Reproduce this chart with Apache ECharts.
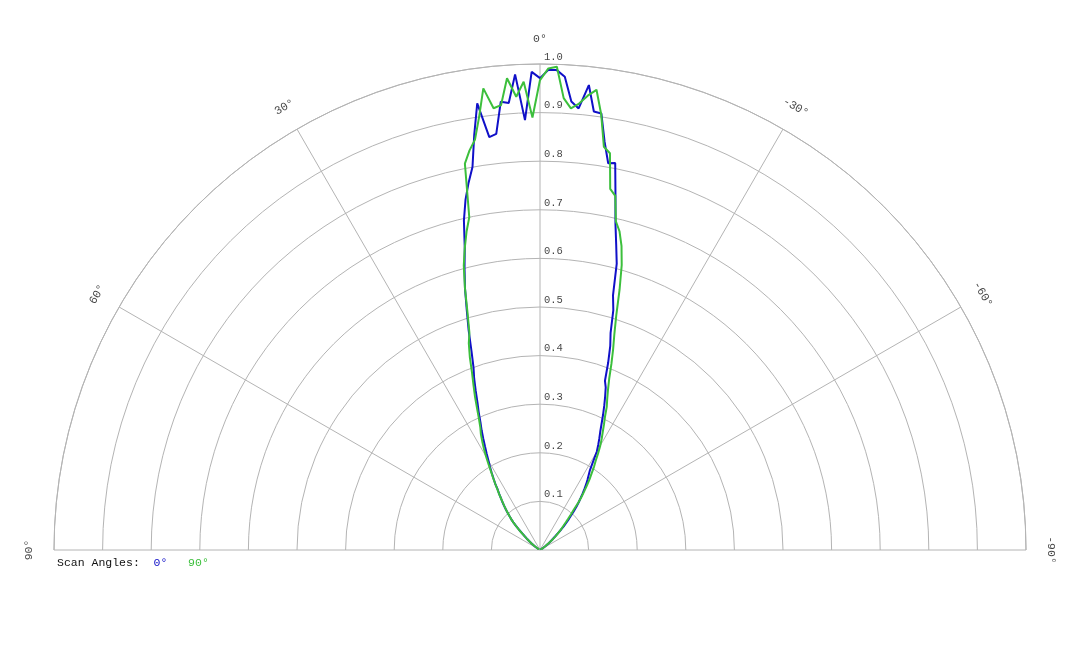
<!DOCTYPE html>
<html>
<head>
<meta charset="utf-8">
<script src="https://cdn.jsdelivr.net/npm/echarts@6/dist/echarts.min.js"></script>
<style>
html,body{margin:0;padding:0;background:#fff;}
#chart{width:1080px;height:648px;}
</style>
</head>
<body>
<div id="chart"></div>
<script>
// Scan angle names (legend)
const scanNames = ['0°', '90°'];
// Angle ticks (degrees) and their labels
const angleTicks = [90, 60, 30, 0, -30, -60, -90];
const angleTickLabels = ['90°', '60°', '30°', '0°', '-30°', '-60°', '-90°'];
// Radial ticks
const radialTicks = [0.1, 0.2, 0.3, 0.4, 0.5, 0.6, 0.7, 0.8, 0.9, 1.0];
// Measurement angles (degrees, positive to the left)
const angles = [
 -60,-59,-58,-57,-56,-55,-54,-53,-52,-51,-50,-49,-48,-47,-46,-45,-44,-43,-42,-41,
 -40,-39,-38,-37,-36,-35,-34,-33,-32,-31,-30,-29,-28,-27,-26,-25,-24,-23,-22,-21,
 -20,-19,-18,-17,-16,-15,-14,-13,-12,-11,-10,-9,-8,-7,-6,-5,-4,-3,-2,-1,
 0,
 1,2,3,4,5,6,7,8,9,10,11,12,13,14,15,16,17,18,19,20,
 21,22,23,24,25,26,27,28,29,30,31,32,33,34,35,36,37,38,39,40,
 41,42,43,44,45,46,47,48,49,50,51,52,53,54,55,56,57,58,59,60
];
// Normalised intensity, scan angle 0°
const scan0 = [
 0.001,0.002,0.004,0.006,0.008,0.011,0.014,0.018,0.022,0.027,0.032,0.037,0.043,0.050,0.060,0.069,0.078,0.087,0.096,0.106,
 0.117,0.127,0.136,0.146,0.156,0.166,0.175,0.184,0.194,0.212,0.234,0.247,0.260,0.273,0.289,0.307,0.325,0.343,0.361,0.373,
 0.410,0.444,0.470,0.516,0.545,0.610,0.648,0.690,0.747,0.811,0.808,0.850,0.907,0.909,0.962,0.912,0.925,0.975,0.988,0.988,
 0.971,
 0.984,0.885,0.980,0.922,0.926,0.861,0.856,0.928,0.865,0.800,0.770,0.737,0.696,0.640,0.600,0.560,0.515,0.475,0.433,0.400,
 0.378,0.353,0.329,0.310,0.290,0.274,0.257,0.241,0.226,0.212,0.200,0.188,0.176,0.165,0.152,0.143,0.134,0.126,0.118,0.110,
 0.102,0.094,0.087,0.079,0.070,0.060,0.050,0.043,0.037,0.032,0.027,0.022,0.018,0.014,0.011,0.008,0.006,0.004,0.002,0.001
];
// Normalised intensity, scan angle 90°
const scan90 = [
 0.001,0.002,0.004,0.006,0.008,0.011,0.014,0.018,0.023,0.028,0.033,0.039,0.045,0.052,0.058,0.064,0.070,0.078,0.087,0.097,
 0.108,0.125,0.139,0.151,0.164,0.178,0.190,0.204,0.216,0.232,0.248,0.262,0.275,0.290,0.305,0.325,0.340,0.358,0.380,0.410,
 0.440,0.470,0.508,0.560,0.610,0.648,0.676,0.694,0.745,0.757,0.829,0.840,0.905,0.954,0.940,0.922,0.911,0.931,0.995,0.991,
 0.967,
 0.890,0.964,0.934,0.973,0.919,0.914,0.957,0.900,0.855,0.835,0.810,0.700,0.672,0.640,0.606,0.560,0.510,0.470,0.450,0.422,
 0.390,0.365,0.342,0.318,0.297,0.280,0.268,0.253,0.238,0.222,0.205,0.190,0.177,0.165,0.153,0.144,0.134,0.125,0.117,0.109,
 0.101,0.094,0.087,0.079,0.070,0.061,0.052,0.044,0.038,0.032,0.027,0.022,0.018,0.014,0.011,0.008,0.006,0.004,0.002,0.001
];

const FONT = '"Liberation Mono", "DejaVu Sans Mono", monospace';
const BLUE = '#1010c8';
const GREEN = '#3cbf3c';
const GRID = '#b4b4b4';

const chart = echarts.init(document.getElementById('chart'), null, {renderer: 'canvas'});

const option = {
  animation: false,
  backgroundColor: '#ffffff',
  title: {
    text: '{a|Scan Angles:  }{b|' + scanNames[0] + '   }{c|' + scanNames[1] + '}',
    left: 57,
    top: 557,
    padding: 0,
    textStyle: {
      fontWeight: 'normal',
      fontFamily: FONT,
      fontSize: 11.5,
      rich: {
        a: {fontFamily: FONT, fontSize: 11.5, fontWeight: 'normal', color: '#111'},
        b: {fontFamily: FONT, fontSize: 11.5, fontWeight: 'normal', color: BLUE},
        c: {fontFamily: FONT, fontSize: 11.5, fontWeight: 'normal', color: GREEN}
      }
    }
  },
  polar: {
    center: [540, 550],
    radius: 486
  },
  angleAxis: {
    type: 'value',
    min: -90,
    max: 90,
    interval: 30,
    startAngle: 0,
    endAngle: 180,
    clockwise: false,
    axisLine: {show: true, lineStyle: {color: GRID, width: 1}},
    axisTick: {show: false},
    axisLabel: {show: false},
    splitLine: {show: true, lineStyle: {color: GRID, width: 1}}
  },
  radiusAxis: {
    type: 'value',
    min: 0,
    max: 1,
    interval: 0.1,
    axisLine: {show: false},
    axisTick: {show: false},
    axisLabel: {show: false},
    splitLine: {show: true, lineStyle: {color: GRID, width: 1}}
  },
  series: [
    {
      name: scanNames[0],
      type: 'line',
      coordinateSystem: 'polar',
      data: angles.map((a, i) => [scan0[i], a]),
      showSymbol: false,
      symbol: 'none',
      lineStyle: {color: BLUE, width: 2},
      z: 3
    },
    {
      name: scanNames[1],
      type: 'line',
      coordinateSystem: 'polar',
      data: angles.map((a, i) => [scan90[i], a]),
      showSymbol: false,
      symbol: 'none',
      lineStyle: {color: GREEN, width: 2},
      z: 4
    },
    {
      name: 'ringLabels',
      type: 'scatter',
      coordinateSystem: 'polar',
      symbolSize: 0,
      clip: false,
      silent: true,
      data: radialTicks.map(r => [r, 0]),
      label: {
        show: true,
        position: 'right',
        distance: 4,
        offset: [0, -7],
        formatter: p => p.value[0].toFixed(1),
        fontFamily: FONT,
        fontSize: 10.5,
        color: '#111'
      },
      z: 5
    },
    {
      name: 'angleLabels',
      type: 'scatter',
      coordinateSystem: 'polar',
      symbolSize: 0,
      clip: false,
      silent: true,
      data: angleTicks.map((a, i) => ({
        value: [1.052, a],
        name: angleTickLabels[i],
        label: {rotate: a}
      })),
      label: {
        show: true,
        position: 'inside',
        formatter: p => p.name,
        fontFamily: FONT,
        fontSize: 11.5,
        color: '#111',
        align: 'center',
        verticalAlign: 'middle'
      },
      z: 5
    }
  ]
};
chart.setOption(option);
</script>
</body>
</html>
